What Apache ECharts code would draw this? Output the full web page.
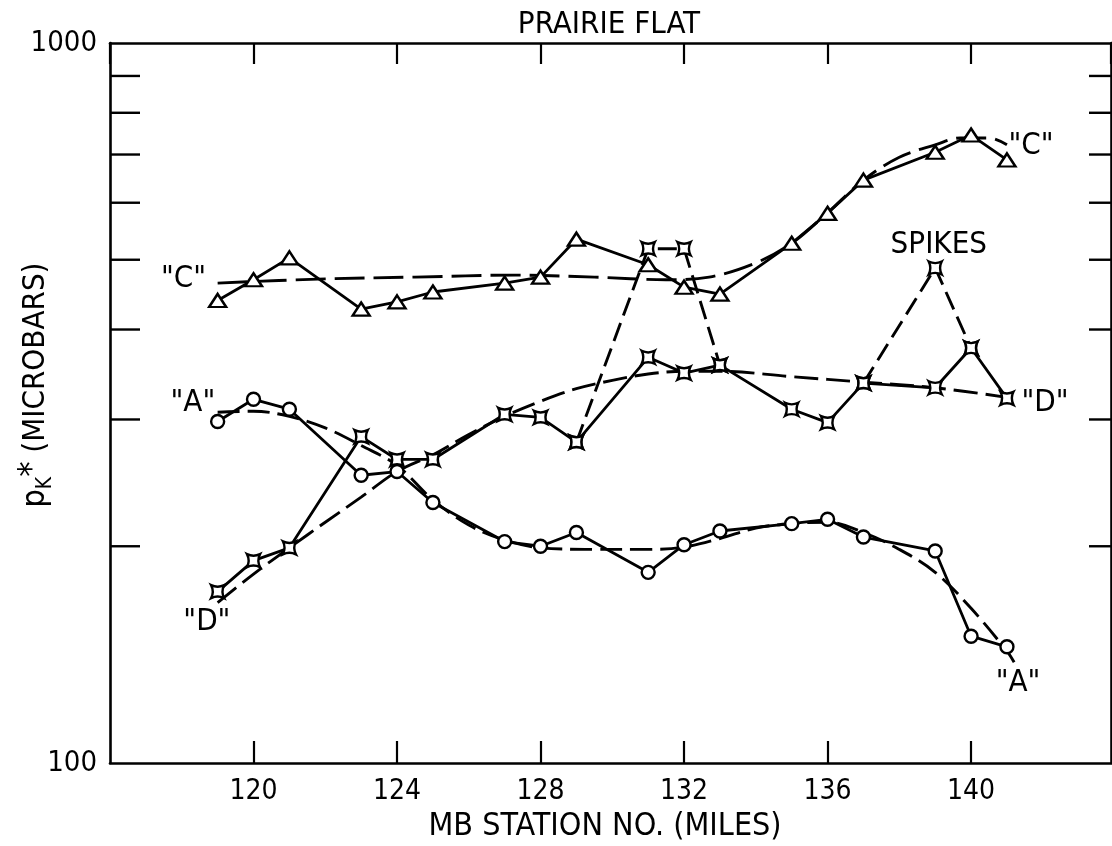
<!DOCTYPE html>
<html>
<head>
<meta charset="utf-8">
<script src="https://cdn.jsdelivr.net/npm/echarts@6/dist/echarts.min.js"></script>
<style>
  html, body { margin: 0; padding: 0; background: #fff; }
  #chart { width: 1112px; height: 846px; }
</style>
</head>
<body>
<div id="chart"></div>
<script>
// ---- data ----
const stations = [119, 120, 121, 123, 124, 125, 127, 128, 129, 131, 132, 133, 135, 136, 137, 139, 140, 141];
const seriesC = [439, 469, 503, 427, 437, 451, 464, 473, 534, 492, 458, 448, 527, 580, 645, 705, 745, 688];
const seriesA = [298, 320, 310, 251, 254, 230, 203, 200, 209, 184, 201, 210, 215, 218, 206, 197, 150, 145];
const seriesD = [173, 191, 199, 284, 264, 264, 305, 302, 279, 366, 348, 357, 310, 297, 337, 332, 377, 321];

const fitC_x = [119, 121.8, 124.5, 127.3, 129.5, 131.5, 132.7, 134, 135, 136, 137, 138, 139, 139.7, 140.5, 141];
const fitC_y = [464, 470, 473, 476, 473, 469, 473, 495, 527, 581, 645, 694, 722, 738, 738, 722];

const fitA_x = [119, 120, 121, 122, 123, 124, 125, 126, 127, 128, 129.5, 131, 132, 133, 134, 135, 136, 137, 138, 139, 140, 141, 141.2];
const fitA_y = [307, 308, 303, 292, 276, 259, 232, 214, 204, 199, 198, 198, 199.5, 205, 212, 215, 216, 209, 198, 184, 164, 143, 138];

const fitD_x = [119, 120, 121, 122, 123, 124, 125, 126, 127, 128, 129, 130, 131, 132, 133, 135, 137, 139, 141];
const fitD_y = [167, 183, 199, 216, 234, 254, 268, 286, 303, 318, 331, 340, 347, 350, 350, 344, 338, 332, 322];

// spikes (dashed excursions of "D"); null breaks the line
const spikes_x = [129, 131, 132, 133, null, 137, 139, 140];
const spikes_y = [279, 518, 518, 357, null, 337, 487, 377];

const xTickLabels = [120, 124, 128, 132, 136, 140];
const yMinorTicks = [200, 300, 400, 500, 600, 700, 800, 900];

const annotations = [
  { text: '"C"', x: 118.05, y: 470 },
  { text: '"C"', x: 141.67, y: 719 },
  { text: '"A"', x: 118.31, y: 316 },
  { text: '"A"', x: 141.31, y: 129 },
  { text: '"D"', x: 118.7, y: 157 },
  { text: '"D"', x: 142.06, y: 316 },
  { text: 'SPIKES', x: 139.1, y: 524 }
];

// ---- chart ----
const INK = '#000';
const FONT = "'DejaVu Sans Condensed', 'DejaVu Sans', sans-serif";
const X_MIN = 116, X_MAX = 143.9;
const starPath = 'path://M-10,-10 Q0,-5 10,-10 Q5,0 10,10 Q0,5 -10,10 Q-5,0 -10,-10 Z';

const pair = (xs, ys) => xs.map((x, i) => (x === null ? '-' : [x, ys[i]]));

const chart = echarts.init(document.getElementById('chart'), null, { renderer: 'canvas' });

const solidStyle = { color: INK, width: 2.8, type: 'solid' };
const dashed = (dash) => ({ color: INK, width: 2.9, type: dash });
const markerStyle = { color: '#fff', borderColor: INK, borderWidth: 2.4 };

chart.setOption({
  animation: false,
  backgroundColor: '#fff',
  grid: { left: 110, right: 1, top: 43, bottom: 83, containLabel: false, outerBoundsMode: 'none' },
  title: {
    text: 'PRAIRIE FLAT',
    left: 604, top: 4, textAlign: 'center',
    textStyle: { fontFamily: FONT, fontSize: 31, fontWeight: 'normal', color: INK }
  },
  xAxis: [
    {
      type: 'value', min: X_MIN, max: X_MAX, interval: 4, position: 'bottom',
      axisLine: { show: true, lineStyle: { color: INK, width: 2.6 } },
      axisTick: { show: true, inside: true, length: 22, lineStyle: { color: INK, width: 2.2 } },
      axisLabel: {
        show: true, margin: 15, color: INK, fontFamily: FONT, fontSize: 28,
        showMinLabel: false, showMaxLabel: false,
        formatter: v => (xTickLabels.indexOf(v) >= 0 ? String(v) : '')
      },
      splitLine: { show: false },
      name: 'MB STATION NO. (MILES)', nameLocation: 'middle', nameGap: 46,
      nameTextStyle: { fontFamily: FONT, fontSize: 32, color: INK, padding: [0, 11, 0, 0] }
    },
    {
      type: 'value', min: X_MIN, max: X_MAX, interval: 4, position: 'top',
      axisLine: { show: true, lineStyle: { color: INK, width: 2.6 } },
      axisTick: { show: true, inside: true, length: 21, lineStyle: { color: INK, width: 2.2 } },
      axisLabel: { show: false }, splitLine: { show: false }
    }
  ],
  yAxis: [
    {
      type: 'log', logBase: 10, min: 100, max: 1000, position: 'left',
      axisLine: { show: true, lineStyle: { color: INK, width: 2.6 } },
      axisTick: { show: false },
      axisLabel: { show: true, margin: 13, color: INK, fontFamily: FONT, fontSize: 29, formatter: v => String(Math.round(v)) },
      splitLine: { show: false }
    },
    {
      type: 'log', logBase: 10, min: 100, max: 1000, position: 'right',
      axisLine: { show: true, lineStyle: { color: INK, width: 2.6 } },
      axisTick: { show: false }, axisLabel: { show: false }, splitLine: { show: false }
    }
  ],
  graphic: [
    {
      type: 'text', x: 36, y: 385, rotation: Math.PI / 2,
      style: {
        text: '{p|p}{k|K}{s|*}{t| (MICROBARS)}',
        align: 'center', verticalAlign: 'middle', fill: INK,
        rich: {
          p: { fontFamily: FONT, fontSize: 32, fill: INK, lineHeight: 40, verticalAlign: 'middle' },
          k: { fontFamily: FONT, fontSize: 21, fill: INK, lineHeight: 40, verticalAlign: 'bottom', padding: [12, 0, 0, 0] },
          s: { fontFamily: FONT, fontSize: 34, fill: INK, lineHeight: 40, verticalAlign: 'top', padding: [0, 0, 10, 0] },
          t: { fontFamily: FONT, fontSize: 31, fill: INK, lineHeight: 40, verticalAlign: 'middle' }
        }
      }
    }
  ],
  series: [
    {
      name: 'y minor ticks', type: 'custom', xAxisIndex: 0, yAxisIndex: 0, silent: true, z: 1,
      data: yMinorTicks.map(v => [X_MIN, v]),
      renderItem: (params, api) => {
        const y = api.coord([X_MIN, api.value(1)])[1];
        const cs = params.coordSys;
        const st = { stroke: INK, lineWidth: 2.4 };
        return {
          type: 'group', children: [
            { type: 'line', shape: { x1: cs.x, y1: y, x2: cs.x + 30, y2: y }, style: st },
            { type: 'line', shape: { x1: cs.x + cs.width - 22, y1: y, x2: cs.x + cs.width, y2: y }, style: st }
          ]
        };
      }
    },
    {
      name: 'C fit', type: 'line', smooth: 0.35, showSymbol: false, symbol: 'none',
      data: pair(fitC_x, fitC_y), lineStyle: dashed([30, 9]), z: 2
    },
    {
      name: 'A fit', type: 'line', smooth: 0.35, showSymbol: false, symbol: 'none',
      data: pair(fitA_x, fitA_y), lineStyle: dashed([22, 8]), z: 2
    },
    {
      name: 'D fit', type: 'line', smooth: 0.35, showSymbol: false, symbol: 'none',
      data: pair(fitD_x, fitD_y), lineStyle: dashed([24, 8]), z: 2
    },
    {
      name: 'Spikes', type: 'line', connectNulls: false,
      data: pair(spikes_x, spikes_y), lineStyle: dashed([19, 8]),
      symbol: starPath, symbolSize: 13, itemStyle: markerStyle, z: 3
    },
    {
      name: 'C', type: 'line', data: pair(stations, seriesC), lineStyle: solidStyle,
      symbol: 'triangle', symbolSize: [17, 13], itemStyle: markerStyle, z: 4
    },
    {
      name: 'A', type: 'line', data: pair(stations, seriesA), lineStyle: solidStyle,
      symbol: 'circle', symbolSize: 13, itemStyle: markerStyle, z: 4
    },
    {
      name: 'D', type: 'line', data: pair(stations, seriesD), lineStyle: solidStyle,
      symbol: starPath, symbolSize: 13, itemStyle: markerStyle, z: 4
    },
    {
      name: 'labels', type: 'scatter', symbolSize: 0, silent: true, z: 5,
      itemStyle: { color: 'rgba(0,0,0,0)' },
      data: annotations.map(a => ({ value: [a.x, a.y], name: a.text })),
      label: {
        show: true, position: [0, 0], align: 'center', verticalAlign: 'middle',
        formatter: p => p.name, color: INK, textBorderWidth: 0, opacity: 1,
        fontFamily: FONT, fontSize: 31
      }
    }
  ]
});
</script>
</body>
</html>
